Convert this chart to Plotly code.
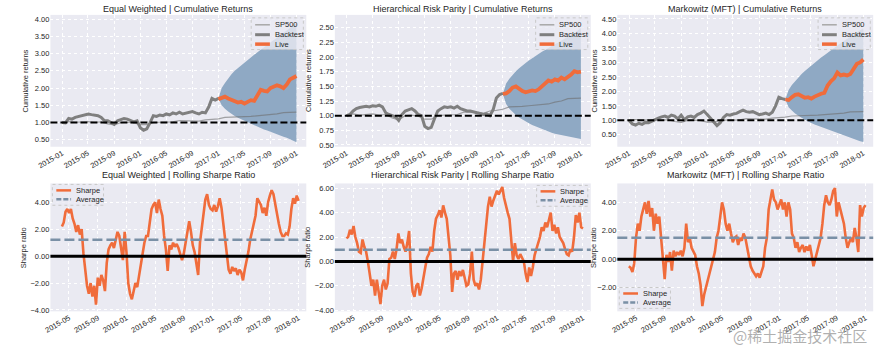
import pandas as pd
import plotly.graph_objects as go
from plotly.subplots import make_subplots

W, H = 886, 354
FONT = "Liberation Sans, Arial, sans-serif"

# ---------------- data ----------------
top_titles = ["Equal Weighted | Cumulative Returns",
              "Hierarchical Risk Parity | Cumulative Returns",
              "Markowitz (MFT) | Cumulative Returns"]
bottom_titles = ["Equal Weighted | Rolling Sharpe Ratio",
                 "Hierarchical Risk Parity | Rolling Sharpe Ratio",
                 "Markowitz (MFT) | Rolling Sharpe Ratio"]

backtest_start, backtest_end = "2015-01-01", "2017-01-01"
live_start, live_end = "2017-01-01", "2018-01-01"
sharpe_start, sharpe_end = "2015-04-01", "2018-01-01"

# monthly, 2015-01 .. 2018-01
sp500 = [1.00, 1.03, 1.01, 1.02, 1.03, 1.01, 1.02, 0.96, 0.93, 1.00, 1.01, 0.99,
         0.94, 0.94, 1.00, 1.01, 1.02, 1.02, 1.06, 1.06, 1.06, 1.04, 1.08, 1.09,
         1.11, 1.15, 1.15, 1.16, 1.17, 1.18, 1.20, 1.20, 1.23, 1.25, 1.29, 1.30,
         1.30]

# semi-monthly backtest, 2015-01 .. 2017-01
ew_backtest = [1.00, 0.99, 1.12, 1.10, 1.15, 1.18, 1.20, 1.22, 1.25, 1.23, 1.22, 1.20,
               1.15, 1.05, 1.05, 1.00, 0.95, 1.05, 1.08, 1.12, 1.10, 1.05, 1.02, 1.05,
               0.85, 0.78, 0.82, 1.00, 1.20, 1.18, 1.22, 1.20, 1.25, 1.22, 1.28, 1.25,
               1.30, 1.25, 1.28, 1.30, 1.32, 1.28, 1.25, 1.30, 1.28, 1.45, 1.70, 1.65,
               1.70]
hrp_backtest = [1.00, 1.02, 1.08, 1.12, 1.14, 1.15, 1.16, 1.15, 1.17, 1.16, 1.18, 1.15,
                1.05, 1.02, 1.00, 0.98, 0.92, 1.02, 1.08, 1.10, 1.12, 1.08, 1.02, 1.00,
                0.82, 0.78, 0.80, 0.95, 1.08, 1.12, 1.15, 1.14, 1.15, 1.13, 1.16, 1.12,
                1.10, 1.08, 1.08, 1.06, 1.05, 1.04, 1.02, 1.03, 1.00, 1.10, 1.30, 1.36,
                1.38]
mft_backtest = [1.00, 0.88, 0.84, 0.90, 0.86, 0.93, 0.92, 0.98, 1.02, 1.08, 1.12, 1.15,
                1.10, 1.18, 1.15, 1.05, 1.18, 1.02, 1.12, 1.15, 1.10, 1.20, 1.25, 1.32,
                1.20, 1.08, 0.95, 0.82, 0.92, 1.10, 1.20, 1.18, 1.22, 1.24, 1.30, 1.35,
                1.30, 1.28, 1.30, 1.25, 1.20, 1.22, 1.25, 1.20, 1.28, 1.50, 1.80, 1.75,
                1.72]

# semi-monthly live, 2017-01 .. 2018-01
ew_live = [1.68, 1.72, 1.75, 1.70, 1.65, 1.62, 1.58, 1.60, 1.55, 1.60, 1.65, 1.63,
           1.80, 1.95, 1.92, 1.90, 2.00, 2.05, 2.08, 2.05, 2.00, 2.10, 2.25, 2.30, 2.35]
hrp_live = [1.37, 1.38, 1.42, 1.48, 1.50, 1.45, 1.42, 1.40, 1.41, 1.43, 1.42, 1.45,
            1.50, 1.55, 1.60, 1.58, 1.62, 1.60, 1.65, 1.62, 1.66, 1.70, 1.76, 1.74, 1.75]
mft_live = [1.72, 1.70, 1.80, 1.88, 1.90, 1.82, 1.78, 1.80, 1.75, 1.82, 1.88, 1.92,
            1.95, 2.20, 2.35, 2.45, 2.65, 2.55, 2.58, 2.55, 2.60, 2.75, 2.95, 3.00, 3.10]

# cone bounds, semi-monthly 2017-01 .. 2018-01
ew_cone_upper = [1.70, 2.00, 2.15, 2.28, 2.40, 2.50, 2.58, 2.66, 2.74, 2.82, 2.90, 2.97,
                 3.04, 3.11, 3.18, 3.25, 3.32, 3.39, 3.46, 3.53, 3.60, 3.67, 3.74, 3.81, 3.88]
ew_cone_lower = [1.70, 1.50, 1.40, 1.32, 1.25, 1.19, 1.14, 1.09, 1.05, 1.00, 0.96, 0.92,
                 0.88, 0.84, 0.80, 0.77, 0.73, 0.70, 0.66, 0.63, 0.59, 0.56, 0.52, 0.48, 0.43]
hrp_cone_upper = [1.37, 1.55, 1.63, 1.70, 1.76, 1.81, 1.86, 1.90, 1.94, 1.98, 2.02, 2.06,
                  2.09, 2.12, 2.16, 2.19, 2.22, 2.25, 2.28, 2.32, 2.35, 2.38, 2.41, 2.45, 2.50]
hrp_cone_lower = [1.37, 1.20, 1.12, 1.06, 1.01, 0.97, 0.93, 0.90, 0.87, 0.84, 0.82, 0.79,
                  0.77, 0.75, 0.73, 0.71, 0.69, 0.68, 0.66, 0.65, 0.64, 0.63, 0.62, 0.61, 0.60]
mft_cone_upper = [1.72, 2.05, 2.22, 2.36, 2.48, 2.60, 2.70, 2.80, 2.90, 3.00, 3.08, 3.17,
                  3.25, 3.34, 3.42, 3.50, 3.58, 3.66, 3.74, 3.82, 3.90, 3.97, 4.04, 4.11, 4.18]
mft_cone_lower = [1.72, 1.45, 1.34, 1.24, 1.16, 1.09, 1.02, 0.96, 0.91, 0.86, 0.81, 0.76,
                  0.72, 0.68, 0.64, 0.60, 0.56, 0.52, 0.48, 0.44, 0.40, 0.36, 0.32, 0.28, 0.25]

# rolling sharpe, 4 readings per month, 2015-04 .. 2018-01
ew_sharpe = [2.2, 2.5, 3.3, 3.5, 3.2, 3.5, 2.8, 2.4, 1.8, 2.3, 1.6, 2.0,
             0.2, -1.2, -2.2, -2.8, -2.0, -3.0, -2.2, -3.6, -1.6, -2.2, -1.4, -1.8,
             -2.6, -0.5, 0.5, 0.8, 1.0, 0.6, 1.3, 1.8, 1.5, 0.5, -0.3, 1.8,
             0.3, -2.0, -2.8, -3.2, -2.5, -2.0, -2.3, -1.5, -0.5, 0.3, 1.0, 1.5,
             1.5, 2.5, 3.5, 3.8, 4.0, 3.2, 4.2, 3.5, 3.0, 1.5, 0.5, -1.1,
             0.8, 0.5, 1.0, 0.7, 0.9, 0.6, 0.2, -0.3, 0.2, 1.0, 1.5, 2.6,
             1.8, 0.8, 0.3, -0.5, -1.4, 1.0, 2.0, 3.0, 4.2, 4.6, 3.8, 3.5,
             3.4, 3.8, 3.3, 3.7, 4.3, 3.6, 2.5, 1.0, 0.0, -1.0, -1.3, -0.8,
             -1.1, -0.9, -1.4, -1.0, -1.2, -1.8, -1.0, -0.4, 0.3, 1.2, 1.8, 2.2,
             3.0, 4.3, 4.0, 3.8, 3.2, 3.6, 3.0, 4.0, 4.5, 4.9, 4.6, 3.8,
             3.2, 2.4, 1.8, 1.5, 1.5, 1.7, 1.6, 2.2, 3.5, 4.3, 3.9, 4.5,
             4.1]
hrp_sharpe = [1.9, 2.0, 2.6, 2.2, 2.9, 2.0, 1.5, 0.8, 0.7, 1.8, 1.2, 0.8,
              0.0, -1.0, -2.0, -1.5, -2.8, -1.5, -2.5, -3.5, -2.0, -1.5, -2.3, -1.8,
              0.2, 0.3, 0.8, 0.2, 1.0, 2.3, 1.5, 1.8, 1.2, 0.8, 1.5, 2.5,
              -1.0, -2.5, -2.9, -2.0, -1.8, -2.8, -2.2, -1.5, -0.5, 0.3, 0.6, 1.2,
              0.8, 2.5, 3.5, 3.8, 4.2, 3.6, 4.6, 4.0, 3.5, 2.0, 0.5, -2.5,
              -1.0, -0.8, -1.5, -0.8, -1.2, -0.7, -1.5, -2.0, -1.9, -1.0, 0.8, -1.5,
              -2.0, -1.8, -2.3, -1.5, 0.0, 1.5, 3.5, 4.5, 5.3, 4.5, 5.0, 5.5,
              5.8, 5.5, 5.8, 6.1, 5.2, 4.5, 4.0, 3.5, 2.0, 0.0, 1.5, 0.5,
              0.2, 0.6, 0.3, 0.0, -1.0, -1.7, -0.5, -1.2, -0.5, 0.5, 1.0, 1.5,
              2.0, 2.8, 2.5, 3.2, 2.8, 3.4, 4.0, 2.5, 3.0, 2.3, 2.8, 2.0,
              1.8, 1.5, 1.0, 0.6, 0.5, 1.0, 0.8, 2.0, 3.8, 3.2, 4.0, 2.8,
              2.7]
mft_sharpe = [-0.5, -0.6, -0.9, -0.3, 1.5, 2.5, 2.0, 3.0, 3.5, 4.0, 3.2, 4.1,
              3.0, 3.6, 2.0, 3.2, 2.5, 3.0, 1.5, 0.0, -1.4, 0.3, -0.2, 0.5,
              -0.8, 0.6, 0.2, 0.5, 0.3, 0.6, 0.2, 0.8, 2.5, 1.2, 1.5, 0.8,
              0.5, 0.3, -0.5, -1.0, -1.8, -3.3, -2.5, -2.0, -1.5, -0.8, -0.5, 0.2,
              0.5, 1.5, 2.0, 3.0, 4.0, 3.5, 2.5, 2.0, 2.5, 1.8, 1.2, 1.5,
              1.6, 1.0, 1.5, 1.3, 1.8, 1.5, 0.8, 0.0, -0.5, -0.8, -1.0, -1.2,
              -1.0, -1.3, -0.9, -0.5, 0.8, 1.5, 3.5, 4.2, 4.9, 4.2, 4.0, 3.5,
              3.8, 4.2, 3.5, 4.0, 3.0, 4.0, 3.5, 1.8, 1.5, 0.8, 1.2, 0.5,
              0.8, 1.0, 0.5, 0.9, 0.6, 1.0, 0.3, -0.5, 0.0, 0.5, 1.0, 1.5,
              2.5, 3.8, 4.5, 4.0, 3.8, 4.2, 4.8, 5.0, 3.0, 4.0, 3.5, 3.0,
              2.5, 1.5, 0.8, 1.2, 1.5, 1.2, 2.2, 1.5, 0.5, 3.8, 3.0, 3.6,
              3.8]
sharpe_averages = [1.21, 0.95, 1.51]

top_yranges = [[0.30, 4.12], [0.47, 2.72], [0.09, 4.64]]
top_dticks = [0.5, 0.25, 0.5]
bottom_yranges = [[-4.1, 5.4], [-4.1, 6.4], [-3.67, 5.33]]

# ---------------- style ----------------
BG = "#EAEAF2"
ORANGE = "#F06C3B"
GREY = "#7F7F7F"
SPGREY = "rgba(110,110,110,0.6)"
CONE = "#8FA9C4"
AVG = "#7A90A6"
TXT = "#262626"

col_x = [(37, 297), (326, 586), (613, 873)]
row_y = [(15, 148), (185, 314)]


def px(x):
    return x / W


def py(y):
    return 1 - y / H


fig = make_subplots(rows=2, cols=3)

backtests = [ew_backtest, hrp_backtest, mft_backtest]
lives = [ew_live, hrp_live, mft_live]
uppers = [ew_cone_upper, hrp_cone_upper, mft_cone_upper]
lowers = [ew_cone_lower, hrp_cone_lower, mft_cone_lower]
sharpes = [ew_sharpe, hrp_sharpe, mft_sharpe]

d_sp = pd.date_range("2015-01-01", "2018-01-01", periods=len(sp500))

for i in range(3):
    c = i + 1
    d_bt = pd.date_range(backtest_start, backtest_end, periods=len(backtests[i]))
    d_lv = pd.date_range(live_start, live_end, periods=len(lives[i]))
    d_cn = pd.date_range(live_start, live_end, periods=len(uppers[i]))
    fig.add_trace(go.Scatter(x=list(d_cn) + list(d_cn[::-1]),
                             y=uppers[i] + lowers[i][::-1],
                             fill="toself", fillcolor=CONE, mode="lines",
                             line=dict(width=0), hoverinfo="skip"), row=1, col=c)
    fig.add_trace(go.Scatter(x=d_sp, y=sp500, mode="lines",
                             line=dict(color=SPGREY, width=1.2)), row=1, col=c)
    fig.add_trace(go.Scatter(x=d_bt, y=backtests[i], mode="lines",
                             line=dict(color=GREY, width=3)), row=1, col=c)
    fig.add_trace(go.Scatter(x=d_lv, y=lives[i], mode="lines",
                             line=dict(color=ORANGE, width=3.8)), row=1, col=c)
    fig.add_hline(y=1.0, row=1, col=c, layer="above",
                  line=dict(color="black", width=2, dash="7px,3px"))

    d_sh = pd.date_range(sharpe_start, sharpe_end, periods=len(sharpes[i]))
    fig.add_trace(go.Scatter(x=d_sh, y=sharpes[i], mode="lines",
                             line=dict(color=ORANGE, width=2.6)), row=2, col=c)
    fig.add_hline(y=sharpe_averages[i], row=2, col=c, layer="above",
                  line=dict(color=AVG, width=2.5, dash="10px,4px"))
    fig.add_hline(y=0.0, row=2, col=c, layer="above",
                  line=dict(color="black", width=3))

axis_common = dict(showgrid=True, gridcolor="white", griddash="dot", gridwidth=1,
                   zeroline=False, showline=False, ticks="",
                   tickfont=dict(size=7.5, color=TXT, family=FONT))

for i in range(3):
    c = i + 1
    x0, x1 = col_x[i]
    fig.update_xaxes(row=1, col=c, domain=[px(x0), px(x1)], type="date",
                     range=["2014-11-07", "2018-02-16"], tick0="2015-01-01",
                     dtick="M4", tickformat="%Y-%m", tickangle=-30, **axis_common)
    fig.update_xaxes(row=2, col=c, domain=[px(x0), px(x1)], type="date",
                     range=["2015-02-11", "2018-02-03"], tick0="2015-01-01",
                     dtick="M4", tickformat="%Y-%m", tickangle=-30, **axis_common)
    fig.update_yaxes(row=1, col=c, domain=[py(row_y[0][1]), py(row_y[0][0])],
                     range=top_yranges[i], tick0=0.5, dtick=top_dticks[i],
                     tickformat=".2f", **axis_common)
    fig.update_yaxes(row=2, col=c, domain=[py(row_y[1][1]), py(row_y[1][0])],
                     range=bottom_yranges[i], tick0=0, dtick=2,
                     tickformat=".2f", **axis_common)

annotations = []
shapes = []


def text(x, y, s, size=7, anchor="left", angle=0, color=TXT, family=FONT):
    annotations.append(dict(x=px(x), y=py(y), xref="paper", yref="paper",
                            text=s, showarrow=False, xanchor=anchor,
                            yanchor="middle", textangle=angle,
                            font=dict(size=size, color=color, family=family)))


for i in range(3):
    x0, x1 = col_x[i]
    xc = (x0 + x1) / 2
    text(xc, 9.5, top_titles[i], size=9, anchor="center")
    text(xc, 176.5, bottom_titles[i], size=9, anchor="center")

ylabel_x_top = [12, 300, 590]
ylabel_x_bot = [10, 298, 589]
for i in range(3):
    text(ylabel_x_top[i], (row_y[0][0] + row_y[0][1]) / 2, "Cumulative returns",
         size=7.5, anchor="center", angle=-90)
    text(ylabel_x_bot[i], (row_y[1][0] + row_y[1][1]) / 2, "Sharpe ratio",
         size=7.5, anchor="center", angle=-90)


def legend(bx, by, bw, bh, entries):
    shapes.append(dict(type="rect", xref="paper", yref="paper",
                       x0=px(bx), x1=px(bx + bw), y0=py(by + bh), y1=py(by),
                       fillcolor="rgba(234,234,242,0.8)",
                       line=dict(color="#C8C8C8", width=1, dash="dot"),
                       layer="above"))
    for label, color, width, dash, ey in entries:
        shapes.append(dict(type="line", xref="paper", yref="paper",
                           x0=px(bx + 4), x1=px(bx + 19), y0=py(by + ey), y1=py(by + ey),
                           line=dict(color=color, width=width, dash=dash),
                           layer="above"))
        text(bx + 22, by + ey, label, size=7.5)


for i in range(3):
    x0, x1 = col_x[i]
    legend(x1 - 3 - 53, row_y[0][0] + 3, 53, 32,
           [("SP500", "#A8A8A8", 1.5, "solid", 7),
            ("Backtest", GREY, 3, "solid", 17),
            ("Live", ORANGE, 3.5, "solid", 26.5)])

sh_entries = [("Sharpe", ORANGE, 2.5, "solid", 6),
              ("Average", AVG, 2.5, "5px,2px", 15)]
legend(col_x[0][0] + 2, row_y[1][0] + 1, 52, 21, sh_entries)
legend(col_x[1][1] - 3 - 52, row_y[1][0] + 2, 52, 21, sh_entries)
legend(col_x[2][0] + 2, row_y[1][1] - 3 - 21, 52, 21, sh_entries)

text(799, 338, "@稀土掘金技术社区", size=15, anchor="center",
     color="rgba(150,150,150,0.75)", family="Noto Sans CJK SC")

fig.update_layout(width=W, height=H, autosize=False, showlegend=False,
                  margin=dict(l=0, r=0, t=0, b=0),
                  paper_bgcolor="white", plot_bgcolor=BG,
                  font=dict(family=FONT, color=TXT),
                  annotations=list(fig.layout.annotations) + annotations)
for s in shapes:
    fig.add_shape(**s)

fig.write_html("out.html")
